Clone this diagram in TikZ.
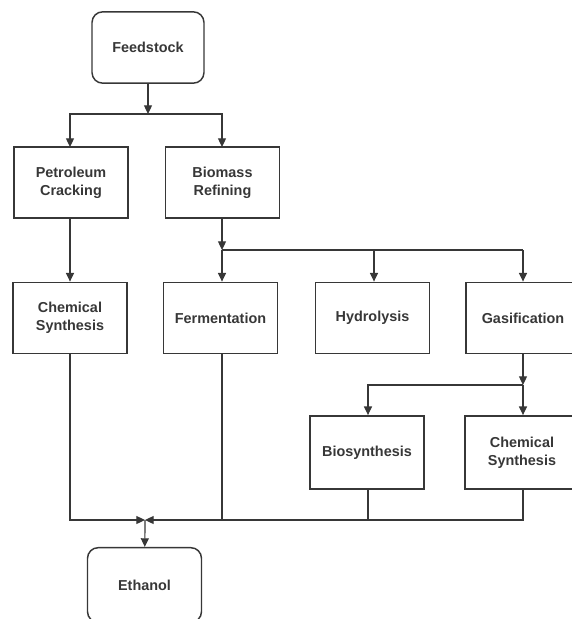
\documentclass[tikz,border=0pt]{standalone}
\usepackage{fontspec}
\setmainfont{Liberation Sans}
\usetikzlibrary{arrows.meta}

\definecolor{inkgrey}{RGB}{55,55,55}

\tikzset{every picture/.style={line width=1.1pt}}
\tikzset{
  procbox/.style={draw=inkgrey, text=inkgrey, align=center, inner sep=0pt,
    minimum width=85.5pt, minimum height=53.5pt,
    font=\fontsize{10.8}{13.5}\selectfont\bfseries},
  endbox/.style={procbox, rounded corners=8pt},
  flow/.style={draw=inkgrey, line width=0.9pt, -{Triangle[length=6.5pt,width=6pt]}},
  link/.style={draw=inkgrey, line width=0.9pt}
}

\begin{document}
\begin{tikzpicture}[x=0.75pt,y=0.75pt,yscale=-1,xscale=1]
\useasboundingbox (0,0) rectangle (572,619);

% Text Node
\node[endbox, minimum width=84pt] (feed) at (148,47.5) {Feedstock};
% Text Node
\node[procbox] (pet) at (71,182.5) {Petroleum\\Cracking};
% Text Node
\node[procbox] (bio) at (222.5,182.5) {Biomass\\Refining};
% Text Node
\node[procbox] (chemA) at (70,318) {Chemical\\Synthesis};
% Text Node
\node[procbox] (ferm) at (220.5,318) {Fermentation};
% Text Node
\node[procbox] (hyd) at (372.5,318) {Hydrolysis};
% Text Node
\node[procbox] (gas) at (523,318) {Gasification};
% Text Node
\node[procbox, minimum height=55pt] (biosyn) at (367,452.5) {Biosynthesis};
% Text Node
\node[procbox, minimum height=55pt] (chemB) at (522,452.5) {Chemical\\Synthesis};
% Text Node
\node[endbox, minimum height=56pt] (eth) at (144.5,585) {Ethanol};

% junctions
\coordinate (jfeed) at (148,114);
\coordinate (jbio) at (222,250);
\coordinate (jgas) at (523,385);
\coordinate (join) at (145,520);

%Straight Lines
\draw[flow] (feed) -- (jfeed);
\draw[flow] (jfeed) -| (70,147);
\draw[flow] (jfeed) -| (222,147);
\draw[flow] (pet.south -| 70,0) -- (chemA.north -| 70,0);
%Straight Lines
\draw[flow] (bio.south -| jbio) -- (jbio);
\draw[link] (jbio) -- (523,250);
\draw[flow] (jbio) -- (ferm.north -| jbio);
\draw[flow] (374,250) -- (hyd.north -| 374,0);
\draw[flow] (523,250) -- (gas.north -| 523,0);
%Straight Lines
\draw[flow] (gas.south -| jgas) -- (jgas);
\draw[flow] (jgas) -| (biosyn.north -| 368,0);
\draw[flow] (jgas) -- (chemB.north -| jgas);
%Straight Lines
\draw[flow] (chemA.south) |- (join);
\draw[flow] (chemB.south -| jgas) |- (join);
\draw[link] (ferm.south -| jbio) -- (jbio |- join);
\draw[link] (biosyn.south -| 368,0) -- (368,520);
\draw[flow] (join) -- (eth);

\end{tikzpicture}
\end{document}
